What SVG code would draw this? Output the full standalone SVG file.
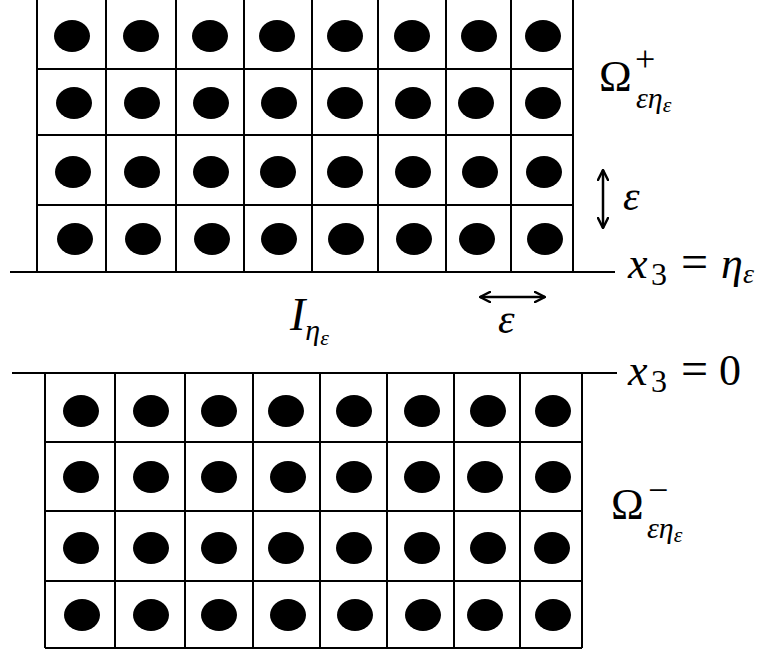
<svg xmlns="http://www.w3.org/2000/svg" width="760" height="651" viewBox="0 0 760 651">
<defs>
<style>
.g{stroke:#000;stroke-width:2;fill:none}
.d{fill:#000}
.ar{stroke:#000;stroke-width:2.5;fill:none}
.m{font-family:"Liberation Serif","DejaVu Serif",serif;font-style:italic;fill:#000}
.r{font-family:"Liberation Serif","DejaVu Serif",serif;font-style:normal;fill:#000}
</style>
<marker id="ah" viewBox="0 0 10 10" refX="9" refY="5" markerWidth="5" markerHeight="5" orient="auto-start-reverse" markerUnits="strokeWidth">
<path d="M1,1 L9,5 L1,9" stroke="#000" stroke-width="2" fill="none" stroke-linecap="round" stroke-linejoin="round"/>
</marker>
</defs>
<rect width="760" height="651" fill="#fff"/>

<g id="top-grid">
<path class="g" d="M37,0V272M106,0V272M176,0V272M244,0V272M312,0V272M378,0V272M446,0V272M511,0V272M573,0V272M37,69H573M37,135H573M37,205H573"/>
<g class="d">
<ellipse cx="72" cy="36" rx="18" ry="16"/><ellipse cx="141" cy="36" rx="18" ry="16"/><ellipse cx="210" cy="36" rx="18" ry="16"/><ellipse cx="277" cy="36" rx="18" ry="16"/><ellipse cx="345" cy="36" rx="18" ry="16"/><ellipse cx="412" cy="36" rx="18" ry="16"/><ellipse cx="479" cy="36" rx="18" ry="16"/><ellipse cx="543" cy="36" rx="18" ry="16"/>
<ellipse cx="74" cy="103" rx="18" ry="16"/><ellipse cx="142" cy="103" rx="18" ry="16"/><ellipse cx="211" cy="103" rx="18" ry="16"/><ellipse cx="279" cy="103" rx="18" ry="16"/><ellipse cx="345" cy="103" rx="18" ry="16"/><ellipse cx="413" cy="103" rx="18" ry="16"/><ellipse cx="476" cy="103" rx="18" ry="16"/><ellipse cx="543" cy="103" rx="18" ry="16"/>
<ellipse cx="73" cy="172" rx="18" ry="16"/><ellipse cx="142" cy="172" rx="18" ry="16"/><ellipse cx="211" cy="172" rx="18" ry="16"/><ellipse cx="278" cy="172" rx="18" ry="16"/><ellipse cx="345" cy="172" rx="18" ry="16"/><ellipse cx="413" cy="172" rx="18" ry="16"/><ellipse cx="480" cy="172" rx="18" ry="16"/><ellipse cx="544" cy="172" rx="18" ry="16"/>
<ellipse cx="75" cy="239" rx="18" ry="16"/><ellipse cx="143" cy="239" rx="18" ry="16"/><ellipse cx="212" cy="239" rx="18" ry="16"/><ellipse cx="279" cy="239" rx="18" ry="16"/><ellipse cx="346" cy="239" rx="18" ry="16"/><ellipse cx="414" cy="239" rx="18" ry="16"/><ellipse cx="477" cy="239" rx="18" ry="16"/><ellipse cx="545" cy="239" rx="18" ry="16"/>
</g>
</g>

<g id="bottom-grid">
<path class="g" d="M45,373V648M115,373V648M185,373V648M253,373V648M320,373V648M387,373V648M454,373V648M520,373V648M582,373V648M45,442H582M45,511H582M45,581H582M45,648H582"/>
<g class="d">
<ellipse cx="81" cy="411" rx="18" ry="16"/><ellipse cx="151" cy="411" rx="18" ry="16"/><ellipse cx="219" cy="411" rx="18" ry="16"/><ellipse cx="286" cy="411" rx="18" ry="16"/><ellipse cx="354" cy="411" rx="18" ry="16"/><ellipse cx="422" cy="411" rx="18" ry="16"/><ellipse cx="488" cy="411" rx="18" ry="16"/><ellipse cx="553" cy="411" rx="18" ry="16"/>
<ellipse cx="81" cy="477" rx="18" ry="16"/><ellipse cx="151" cy="477" rx="18" ry="16"/><ellipse cx="219" cy="477" rx="18" ry="16"/><ellipse cx="288" cy="477" rx="18" ry="16"/><ellipse cx="354" cy="477" rx="18" ry="16"/><ellipse cx="422" cy="477" rx="18" ry="16"/><ellipse cx="485" cy="477" rx="18" ry="16"/><ellipse cx="553" cy="477" rx="18" ry="16"/>
<ellipse cx="81" cy="548" rx="18" ry="16"/><ellipse cx="151" cy="548" rx="18" ry="16"/><ellipse cx="219" cy="548" rx="18" ry="16"/><ellipse cx="286" cy="548" rx="18" ry="16"/><ellipse cx="354" cy="548" rx="18" ry="16"/><ellipse cx="422" cy="548" rx="18" ry="16"/><ellipse cx="488" cy="548" rx="18" ry="16"/><ellipse cx="552" cy="548" rx="18" ry="16"/>
<ellipse cx="82" cy="615" rx="18" ry="16"/><ellipse cx="151" cy="615" rx="18" ry="16"/><ellipse cx="219" cy="615" rx="18" ry="16"/><ellipse cx="288" cy="615" rx="18" ry="16"/><ellipse cx="355" cy="615" rx="18" ry="16"/><ellipse cx="423" cy="615" rx="18" ry="16"/><ellipse cx="485" cy="615" rx="18" ry="16"/><ellipse cx="553" cy="615" rx="18" ry="16"/>
</g>
</g>

<g id="interfaces">
<path class="g" stroke-width="2.5" d="M10,272H615M12,373H617"/>
</g>

<g id="connectors">
<line class="ar" x1="603" y1="170" x2="603" y2="228" marker-start="url(#ah)" marker-end="url(#ah)"/>
<line class="ar" x1="480" y1="297" x2="545" y2="297" marker-start="url(#ah)" marker-end="url(#ah)"/>
</g>

<g id="labels">
<text class="r" font-size="44"><tspan x="599" y="91">Ω</tspan><tspan font-size="36" x="635" y="71">+</tspan><tspan class="m" font-size="30" x="636" y="108">εη</tspan><tspan class="m" font-size="22" y="112">ε</tspan></text>

<text class="m" x="623" y="210" font-size="42">ε</text>

<text class="m" font-size="44" y="278"><tspan x="628">x</tspan><tspan class="r" font-size="32" x="651" dy="7">3</tspan><tspan class="r" font-size="48" x="681" dy="-7">=</tspan><tspan x="721">η</tspan><tspan font-size="28" x="743" dy="5">ε</tspan></text>

<text class="m" x="290" y="330" font-size="46">I<tspan font-size="30" dy="10">η</tspan><tspan font-size="22" dy="5">ε</tspan></text>
<text class="m" x="498" y="333" font-size="42">ε</text>

<text class="m" font-size="44" y="385"><tspan x="628">x</tspan><tspan class="r" font-size="32" x="651" dy="7">3</tspan><tspan class="r" font-size="48" x="681" dy="-7">=</tspan><tspan class="r" x="719">0</tspan></text>

<text class="r" font-size="44"><tspan x="611" y="519">Ω</tspan><tspan font-size="36" x="648" y="502">−</tspan><tspan class="m" font-size="30" x="647" y="538">εη</tspan><tspan class="m" font-size="22" y="542">ε</tspan></text>
</g>
</svg>
